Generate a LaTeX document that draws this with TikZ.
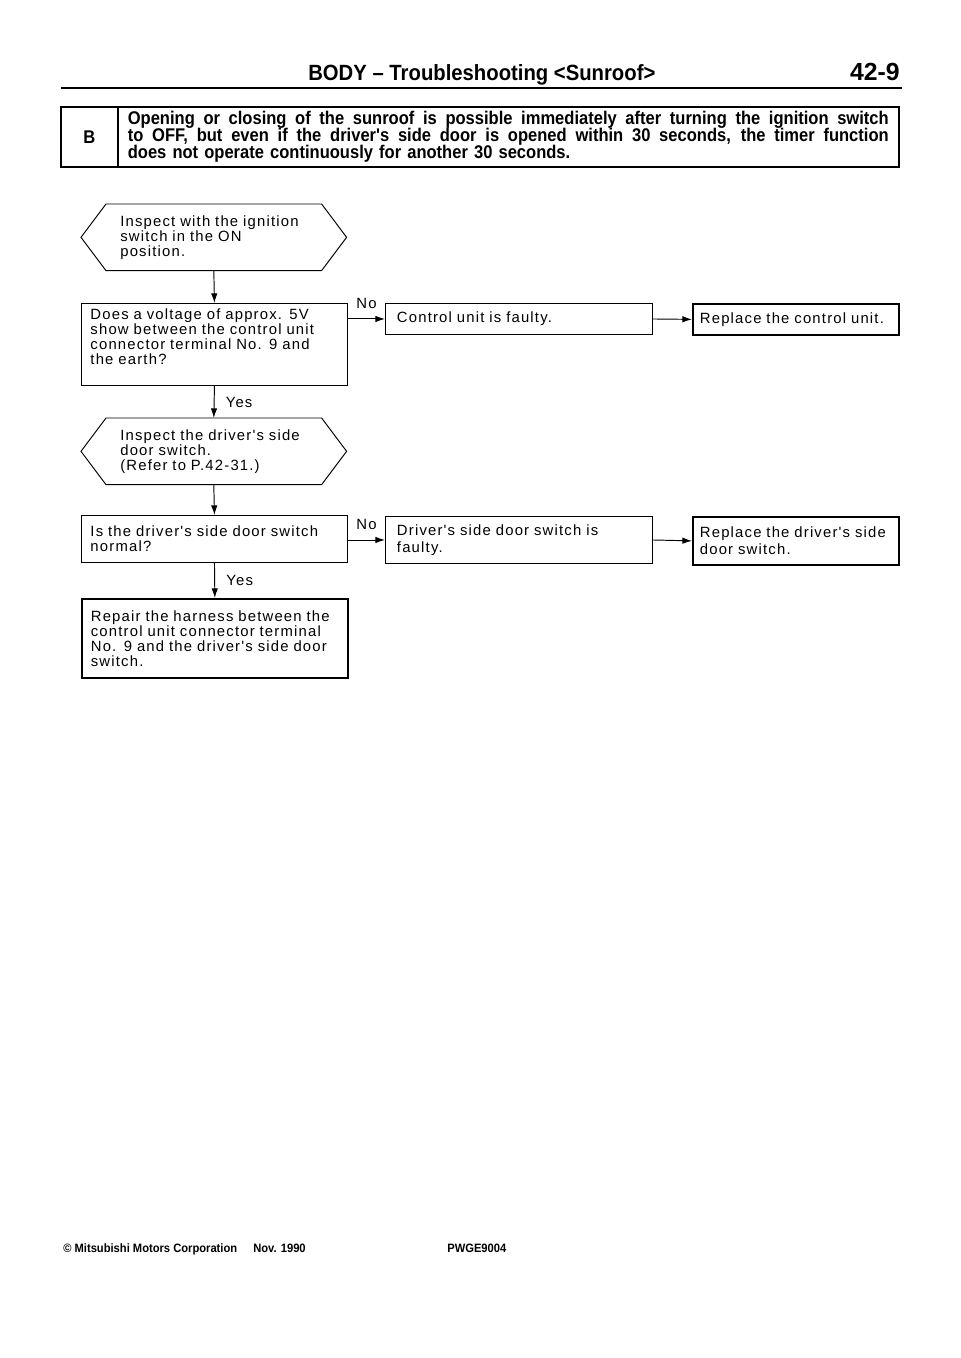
\documentclass[tikz,border=0pt]{standalone}
\usepackage{fontspec}
\setmainfont{Liberation Sans}
\newfontfamily\chartfont{Liberation Sans}[LetterSpace=8]
\newfontfamily\headfont{Liberation Sans}[FakeStretch=0.92]
\newfontfamily\casefont{Liberation Sans}[FakeStretch=0.9]
\usetikzlibrary{arrows.meta, calc}
\newcommand{\tightlines}{\lineskiplimit=-10pt\relax}

\begin{document}
\begin{tikzpicture}[x=0.022cm, y=-0.022cm,
    chart/.style={font=\chartfont\fontsize{9.3}{9.36}\selectfont\tightlines, align=left,
      inner ysep=0pt, anchor=north west},
    loose/.style={font=\chartfont\fontsize{9.3}{10.6}\selectfont\tightlines},
    leftbox/.style={chart, draw, line width=0.6pt, text width=5.456cm, inner xsep=0.198cm},
    hexbox/.style={chart, text width=4.114cm, inner xsep=0.858cm, minimum height=1.452cm},
    resbox/.style={chart, draw, line width=0.6pt, text width=5.368cm, inner xsep=0.253cm},
    fixbox/.style={chart, draw, line width=1.1pt, text width=4.224cm, inner xsep=0.154cm},
    casebox/.style={draw, line width=1pt, anchor=north west, inner ysep=0pt, minimum height=1.32cm},
    arr/.style={line width=0.6pt, -{Latex[length=6pt, width=4pt]}},
    nolbl/.style={chart, anchor=south, inner sep=1pt, yshift=5pt},
    yeslbl/.style={chart, anchor=west, inner sep=1pt, xshift=6pt},
  ]
  % --- page ---
  \fill[white] (0,0) rectangle (960,1358);
  \useasboundingbox (0,0) rectangle (960,1358);

  % --- header ---
  \node[anchor=base west, inner sep=0, font=\headfont\bfseries\fontsize{13.8}{14}\selectfont]
    (title) at (308,81) {BODY \textendash{} Troubleshooting <Sunroof>};
  \node[anchor=base east, inner sep=0, font=\bfseries\fontsize{15.5}{15.5}\selectfont]
    (pageno) at (900,81) {42-9};
  \draw[line width=1.6pt] (61,88) -- (902,88);

  % --- case B ---
  \node[casebox, minimum width=1.254cm,
    font=\casefont\bfseries\fontsize{11.5}{12}\selectfont] (casel) at (60,106) {B};
  \node[casebox, text width=16.742cm, inner xsep=0.22cm, align=left,
    font=\casefont\bfseries\fontsize{11.5}{10.6}\selectfont\tightlines]
    (caset) at (117,106)
    {\makebox[16.742cm][s]{\spaceskip=0.25em plus 1em\relax Opening or closing of the sunroof is possible immediately after turning the ignition switch}\\
     \makebox[16.742cm][s]{\spaceskip=0.25em plus 1em\relax to OFF, but even if the driver's side door is opened within 30 seconds, the timer function}\\
     does not operate continuously for another 30 seconds.};

  % --- left column ---
  \node[hexbox] (insp1) at (81,204) {Inspect with the ignition\\switch in the ON\\position.};
  \node[leftbox, minimum height=1.804cm] (q1) at (81,303)
    {Does a voltage of approx. 5V\\show between the control unit\\connector terminal No. 9 and\\the earth?\rule[-10pt]{0pt}{10pt}};
  \node[hexbox] (insp2) at (81,418) {Inspect the driver's side\\door switch.\\(Refer to P.42-31.)};
  \node[leftbox, minimum height=1.034cm] (q2) at (81,515)
    {Is the driver's side door switch\\normal?};
  \node[leftbox, line width=1.1pt, minimum height=1.738cm] (fix3) at (81,598)
    {Repair the harness between the\\control unit connector terminal\\No. 9 and the driver's side door\\switch.};

  % hexagon outlines
  \foreach \h in {insp1, insp2}
    \draw[line width=0.6pt] (\h.west) -- ([xshift=0.55cm]\h.north west)
      -- ([xshift=-0.55cm]\h.north east) -- (\h.east)
      -- ([xshift=-0.55cm]\h.south east) -- ([xshift=0.55cm]\h.south west) -- cycle;

  % --- right columns ---
  \node[resbox, minimum height=0.682cm] (res1) at (385,303) {Control unit is faulty.};
  \node[fixbox, minimum height=0.682cm] (fix1) at (692,303) {Replace the control unit.};
  \node[resbox, loose, minimum height=1.034cm] (res2) at (385,516)
    {Driver's side door switch is\\faulty.};
  \node[fixbox, loose, minimum height=1.056cm] (fix2) at (692,516)
    {Replace the driver's side\\door switch.};

  % --- connectors ---
  \draw[arr] (insp1.south) -- (q1.north);
  \draw[arr] (q1.south) -- (insp2.north) node[yeslbl, midway] {Yes};
  \draw[arr] (insp2.south) -- (q2.north);
  \draw[arr] (q2.south) -- (fix3.north) node[yeslbl, midway] {Yes};
  \draw[arr] (q1.east |- res1.west) -- (res1.west) node[nolbl, midway] {No};
  \draw[arr] (q2.east |- res2.west) -- (res2.west) node[nolbl, midway] {No};
  \draw[arr] (res1.east) -- (fix1.west);
  \draw[arr] (res2.east) -- (fix2.west);

  % --- footer ---
  \node[anchor=base west, inner sep=0, font=\headfont\bfseries\fontsize{7.6}{8}\selectfont]
    (copy) at (63,1252) {© Mitsubishi Motors Corporation};
  \node[anchor=base west, inner sep=0, font=\headfont\bfseries\fontsize{7.6}{8}\selectfont]
    (date) at (253,1252) {Nov. 1990};
  \node[anchor=base west, inner sep=0, font=\headfont\bfseries\fontsize{7.6}{8}\selectfont]
    (code) at (447,1252) {PWGE9004};
\end{tikzpicture}
\end{document}
